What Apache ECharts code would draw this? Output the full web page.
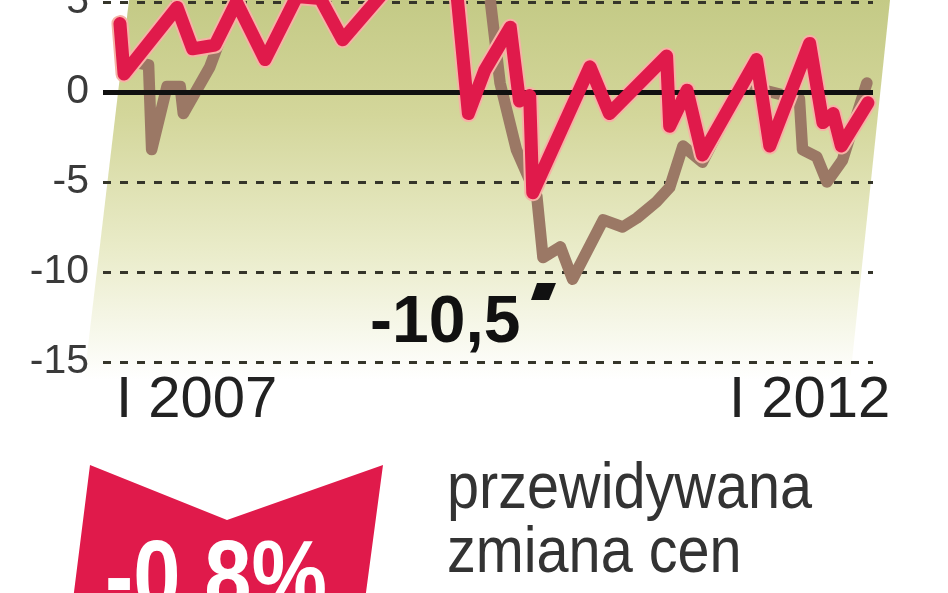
<!DOCTYPE html>
<html>
<head>
<meta charset="UTF-8">
<script src="https://cdn.jsdelivr.net/npm/echarts@6/dist/echarts.min.js"></script>
<style>
html, body { margin: 0; padding: 0; background: #fff; }
#main { width: 948px; height: 593px; }
</style>
</head>
<body>
<div id="main"></div>
<script type="text/javascript">
// months counted from January 2007 (0 = I 2007, 60 = I 2012)
var redMonths   = [0, 0.4, 5.6, 7.1, 9.3, 11.4, 14.2, 17.3, 19.6, 21.8, 25.9, 29.4, 32.8, 34.1, 35.7, 38.2, 39.1, 40.1, 40.4, 46.0, 47.9, 53.5, 53.8, 55.5, 57.0, 62.3, 63.6, 67.5, 68.8, 69.8, 70.6, 73.2];
var redValues   = [3.8, 1.0, 4.7, 2.4, 2.6, 5.0, 1.8, 5.3, 5.2, 2.9, 5.6, 7.0, 6.5, -1.2, 1.2, 3.6, -0.5, -0.2, -5.6, 1.4, -1.2, 2.0, -1.9, 0.1, -3.5, 1.8, -3.0, 2.7, -1.7, -1.2, -3.0, -0.6];
var brownMonths = [0.2, 2.8, 3.1, 4.6, 5.9, 6.2, 8.8, 11.7, 17.6, 27.4, 34.2, 36.2, 37.2, 38.8, 40.8, 41.4, 43.1, 44.3, 47.3, 49.2, 50.6, 52.5, 53.8, 55.1, 57.0, 61.0, 62.3, 66.5, 66.8, 68.2, 69.2, 70.7, 73.1];
var brownValues = [1.8, 1.5, -3.2, 0.3, 0.3, -1.2, 1.4, 5.8, 7.0, 7.5, 6.0, 5.3, 0.5, -3.2, -5.8, -9.2, -8.6, -10.4, -7.1, -7.5, -7.0, -6.1, -5.3, -3.0, -3.9, 0.5, 0.2, -0.4, -3.2, -3.6, -5.0, -3.8, 0.5];
var tickMonths  = [0, 60];
var tickLabels  = ['I 2007', 'I 2012'];
var minLabel    = '-10,5';
var forecast    = '-0,8%';
var caption     = ['przewidywana', 'zmiana cen'];

function pairs(xs, ys) {
    return xs.map(function (x, i) { return [x, ys[i]]; });
}

var myChart = echarts.init(document.getElementById('main'));

var option = {
    animation: false,
    grid: { left: 103, right: 75, top: 2, bottom: 231, outerBoundsMode: 'none', containLabel: false },
    xAxis: {
        type: 'value',
        min: -1.66,
        max: 73.7,
        axisLine: { show: false },
        axisTick: { show: false },
        splitLine: { show: false },
        axisLabel: {
            customValues: tickMonths,
            formatter: function (v) { return tickLabels[tickMonths.indexOf(v)]; },
            align: 'left',
            verticalAlign: 'middle',
            margin: 39,
            padding: [0, 0, 0, -4],
            fontFamily: 'Liberation Sans',
            fontSize: 58,
            color: '#222'
        }
    },
    yAxis: {
        type: 'value',
        min: -15,
        max: 5,
        interval: 5,
        axisLine: { show: false },
        axisTick: { show: false },
        axisLabel: {
            margin: 14,
            fontFamily: 'Liberation Sans',
            fontSize: 41,
            color: '#3a3a3a'
        },
        splitLine: {
            lineStyle: { color: '#35352a', width: 3, type: [8, 9] }
        }
    },
    graphic: [
        {
            type: 'polygon', z: -1, silent: true,
            shape: { points: [[129, 0], [890, 0], [850, 380], [84, 380]] },
            style: {
                fill: new echarts.graphic.LinearGradient(0, 0, 0, 1, [
                    { offset: 0, color: '#c4ca86' },
                    { offset: 0.3, color: '#d3d69a' },
                    { offset: 0.65, color: '#e9ebc8' },
                    { offset: 1, color: '#ffffff' }
                ])
            }
        },
        {
            type: 'text', z: 100, left: 370, top: 291,
            style: { text: minLabel, fontFamily: 'Liberation Sans', fontWeight: 'bold', fontSize: 66, fill: '#111' }
        },
        {
            type: 'polygon', z: 100,
            shape: { points: [[537, 283], [556, 283], [549, 300], [531, 300]] },
            style: { fill: '#111' }
        },
        {
            type: 'polygon', z: 100,
            shape: { points: [[90, 465], [227, 520], [383, 465], [365, 600], [73, 600]] },
            style: { fill: '#e01a4b' }
        },
        {
            type: 'text', z: 101, x: 105, y: 532, scaleX: 0.85,
            style: { text: forecast, fontFamily: 'Liberation Sans', fontWeight: 'bold', fontSize: 100, fill: '#fff' }
        },
        {
            type: 'text', z: 100, x: 447, y: 458, scaleX: 0.9,
            style: { text: caption[0], fontFamily: 'Liberation Sans', fontSize: 64, fill: '#333' }
        },
        {
            type: 'text', z: 100, x: 447, y: 522, scaleX: 0.9,
            style: { text: caption[1], fontFamily: 'Liberation Sans', fontSize: 64, fill: '#333' }
        }
    ],
    series: [
        {
            name: 'brown',
            type: 'line',
            data: pairs(brownMonths, brownValues),
            showSymbol: false,
            clip: false,
            lineStyle: { color: '#9b7865', width: 11.5, join: 'round', cap: 'round' },
            markLine: {
                silent: true,
                symbol: 'none',
                label: { show: false },
                lineStyle: { color: '#111', width: 5, type: 'solid' },
                data: [{ yAxis: 0 }]
            },
            z: 3
        },
        {
            name: 'redHalo',
            type: 'line',
            data: pairs(redMonths, redValues),
            showSymbol: false,
            clip: false,
            lineStyle: { color: '#f6b2a6', width: 17, join: 'round', cap: 'round' },
            z: 4
        },
        {
            name: 'red',
            type: 'line',
            data: pairs(redMonths, redValues),
            showSymbol: false,
            clip: false,
            lineStyle: { color: '#e01a4b', width: 13, join: 'round', cap: 'round' },
            z: 5
        }
    ]
};

myChart.setOption(option);
</script>
</body>
</html>
